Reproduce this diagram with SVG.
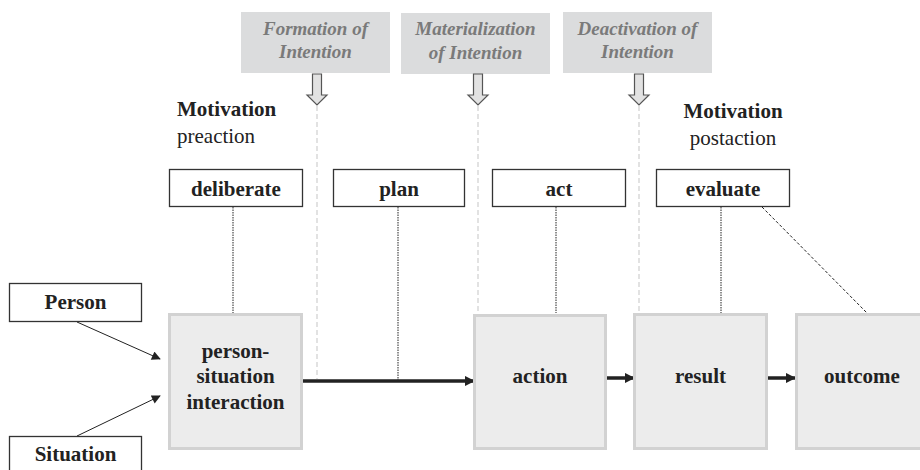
<svg xmlns="http://www.w3.org/2000/svg" width="920" height="470" viewBox="0 0 920 470">
<style>
text{font-family:'Liberation Serif','Times New Roman','DejaVu Serif',serif}
.phase{fill:#dbdcdd;stroke:none}
.phase-t{font-style:italic;font-weight:bold;font-size:19px;fill:#7a7a7a;text-anchor:middle}
.harrow{fill:#e2e2e2;stroke:#555;stroke-width:1.2}
.mot{font-size:21px;fill:#222}
.tbox{fill:#fff;stroke:#333;stroke-width:1.3}
.lbl{font-weight:bold;font-size:21px;fill:#222;text-anchor:middle}
.big{fill:#ececec;stroke:#d2d2d2;stroke-width:3}
.gdash{stroke:#cfcfcf;stroke-width:1.2;stroke-dasharray:5,3;fill:none}
.dot{stroke:#222;stroke-width:1;stroke-dasharray:1.5,1;fill:none}
.ddash{stroke:#222;stroke-width:1;stroke-dasharray:3,2;fill:none}
.thick{stroke:#222;stroke-width:3.5;fill:none}
.thin{stroke:#222;stroke-width:1;fill:none}
</style>
<defs>
<marker id="ah" viewBox="0 0 10 10" refX="9" refY="5" markerWidth="3" markerHeight="3" orient="auto" markerUnits="strokeWidth">
<path d="M0,0 L10,5 L0,10 z" fill="#222"/>
</marker>
<marker id="ahs" viewBox="0 0 10 10" refX="9" refY="5" markerWidth="10" markerHeight="9" orient="auto" markerUnits="userSpaceOnUse">
<path d="M0,0 L10,5 L0,10 z" fill="#222"/>
</marker>
</defs>

<g id="connectors">
<line class="gdash" x1="317" y1="106" x2="317" y2="379"/>
<line class="gdash" x1="478" y1="106" x2="478" y2="313"/>
<line class="gdash" x1="639" y1="106" x2="639" y2="313"/>
<line class="dot" x1="233" y1="207" x2="233" y2="313"/>
<line class="dot" x1="398" y1="207" x2="398" y2="380"/>
<line class="dot" x1="556" y1="207" x2="556" y2="313"/>
<line class="dot" x1="721" y1="207" x2="721" y2="313"/>
<line class="ddash" x1="762" y1="207" x2="867" y2="313"/>
<line class="thin" x1="77" y1="322" x2="160" y2="359" marker-end="url(#ahs)"/>
<line class="thin" x1="77" y1="436" x2="160" y2="396" marker-end="url(#ahs)"/>
<line class="thick" x1="303" y1="381" x2="474" y2="381" marker-end="url(#ah)"/>
<line class="thick" x1="607" y1="378" x2="634" y2="378" marker-end="url(#ah)"/>
<line class="thick" x1="768" y1="378" x2="795" y2="378" marker-end="url(#ah)"/>
</g>

<g id="formation">
<rect class="phase" x="241" y="12" width="149" height="61"/>
<text class="phase-t" x="315.5" y="35">Formation of</text>
<text class="phase-t" x="315.5" y="58">Intention</text>
<path class="harrow" d="M312.5,74 H321.5 V95 H327 L317,105 L307,95 H312.5 Z"/>
</g>
<g id="materialization">
<rect class="phase" x="401" y="13" width="149" height="61"/>
<text class="phase-t" x="475.5" y="35">Materialization</text>
<text class="phase-t" x="475.5" y="59">of Intention</text>
<path class="harrow" d="M473.5,74 H482.5 V95 H488 L478,105 L468,95 H473.5 Z"/>
</g>
<g id="deactivation">
<rect class="phase" x="563" y="12" width="149" height="61"/>
<text class="phase-t" x="637.5" y="35">Deactivation of</text>
<text class="phase-t" x="637.5" y="58">Intention</text>
<path class="harrow" d="M634.5,74 H643.5 V95 H649 L639,105 L629,95 H634.5 Z"/>
</g>

<g id="motivation-pre">
<text class="mot" x="177" y="116" font-weight="bold">Motivation</text>
<text class="mot" x="177" y="143">preaction</text>
</g>
<g id="motivation-post">
<text class="mot" x="733" y="118" font-weight="bold" text-anchor="middle">Motivation</text>
<text class="mot" x="733" y="145" text-anchor="middle">postaction</text>
</g>

<g id="deliberate">
<rect class="tbox" x="169.5" y="169.5" width="133" height="37"/>
<text class="lbl" x="236" y="196">deliberate</text>
</g>
<g id="plan">
<rect class="tbox" x="333.5" y="169.5" width="131" height="37"/>
<text class="lbl" x="399" y="196">plan</text>
</g>
<g id="act">
<rect class="tbox" x="492.5" y="169.5" width="133" height="37"/>
<text class="lbl" x="559" y="196">act</text>
</g>
<g id="evaluate">
<rect class="tbox" x="656.5" y="169.5" width="133" height="37"/>
<text class="lbl" x="723" y="196">evaluate</text>
</g>

<g id="person">
<rect class="tbox" x="9.5" y="283.5" width="132" height="38"/>
<text class="lbl" x="75.5" y="309">Person</text>
</g>
<g id="situation">
<rect class="tbox" x="9.5" y="436.5" width="132" height="40"/>
<text class="lbl" x="75.5" y="461">Situation</text>
</g>

<g id="interaction">
<rect class="big" x="169.5" y="314.5" width="132" height="134"/>
<text class="lbl" x="235.5" y="358">person-</text>
<text class="lbl" x="235.5" y="383">situation</text>
<text class="lbl" x="235.5" y="409">interaction</text>
</g>
<g id="action">
<rect class="big" x="474.5" y="315.5" width="131" height="133"/>
<text class="lbl" x="540" y="383">action</text>
</g>
<g id="result">
<rect class="big" x="634.5" y="314.5" width="132" height="134"/>
<text class="lbl" x="700.5" y="383">result</text>
</g>
<g id="outcome">
<rect class="big" x="796.5" y="314.5" width="132" height="134"/>
<text class="lbl" x="862" y="383">outcome</text>
</g>
</svg>
